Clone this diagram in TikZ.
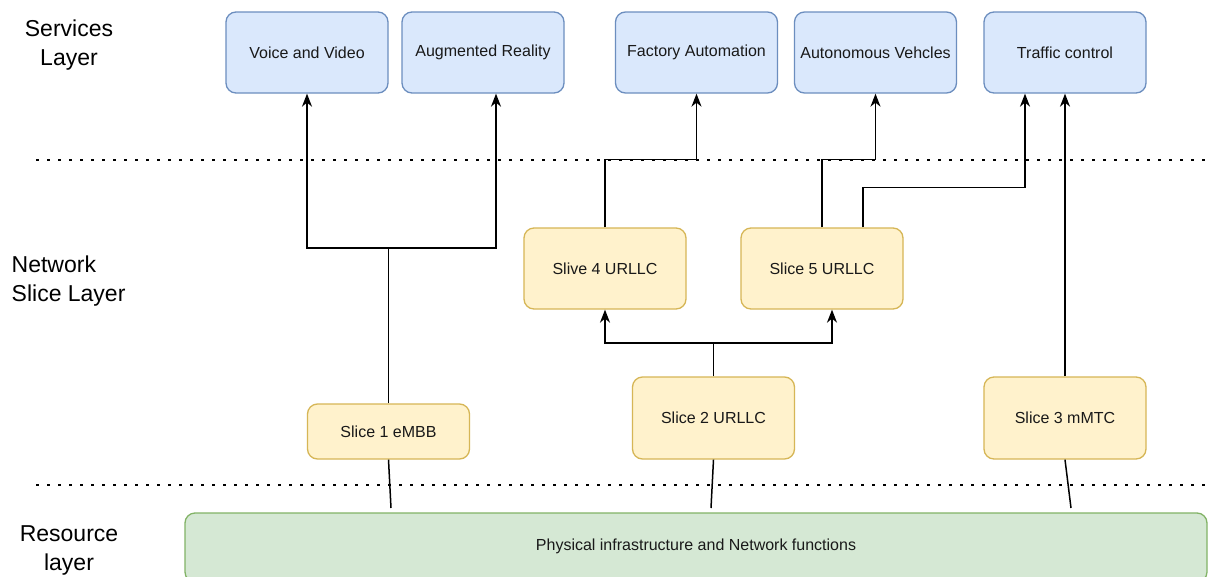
\documentclass[tikz,border=0pt]{standalone}
\usepackage{fontspec}
\setmainfont{Liberation Sans}
\usetikzlibrary{arrows.meta}
\definecolor{bfill}{HTML}{DAE8FC}
\definecolor{bdraw}{HTML}{6C8EBF}
\definecolor{yfill}{HTML}{FFF2CC}
\definecolor{ydraw}{HTML}{D6B656}
\definecolor{gfill}{HTML}{D5E8D4}
\definecolor{gdraw}{HTML}{82B366}
\tikzset{
  box/.style={rectangle, rounded corners=10pt, line width=1.3pt, minimum width=162pt, inner sep=0pt, font=\fontsize{16}{19}\selectfont, text=black!90},
  svc/.style={box, fill=bfill, draw=bdraw, minimum height=81pt},
  slc/.style={box, fill=yfill, draw=ydraw, minimum height=81pt},
  res/.style={rectangle, rounded corners=10pt, line width=1.3pt, fill=gfill, draw=gdraw},
  arr/.style={line width=1.5pt, -{Stealth[length=13pt,width=10pt,inset=4pt]}},
  ln/.style={line width=1.5pt},
  sep/.style={line width=2.6pt, dash pattern=on 2.6pt off 8.4pt},
  lay/.style={font=\fontsize{23}{29}\selectfont, inner sep=0pt}
}
\begin{document}
\begin{tikzpicture}[x=1pt,y=-1pt]
\useasboundingbox (0,0) rectangle (1208,576);
\fill[white] (0,0) rectangle (1208,576);

% separators
\draw[sep] (36,160) -- (1208,160);
\draw[sep] (36,485) -- (1208,485);

% layer labels
\node[lay, align=center] (lsvc) at (69,45) {Services\\Layer};
\node[lay, align=left, anchor=west] (lnet) at (11.5,281) {Network\\Slice Layer};
\node[lay, align=center] (lres) at (69,550) {Resource\\layer};

% resource box
\draw[res] (185,513) rectangle (1207,582);
\node[font=\fontsize{16}{19}\selectfont, text=black!90] (phys) at (696,546) {Physical infrastructure and Network functions};

% services
\node[svc] (vv) at (307,52.5) {Voice and Video};
\node[svc] (ar) at (483,52.5) {Augmented Reality};
\node[svc] (fa) at (696.5,52.5) {Factory Automation};
\node[svc] (av) at (875.5,52.5) {Autonomous Vehcles};
\node[svc] (tc) at (1065,52.5) {Traffic control};

% slices
\node[slc] (s4) at (605,268.5) {Slive 4 URLLC};
\node[slc] (s5) at (822,268.5) {Slice 5 URLLC};
\node[slc, minimum height=55pt] (s1) at (388.5,431.5) {Slice 1 eMBB};
\node[slc, minimum height=82pt] (s2) at (713.5,418) {Slice 2 URLLC};
\node[slc, minimum height=82pt] (s3) at (1065,418) {Slice 3 mMTC};

% connectors slice 1
\coordinate (j1) at (388.5,248);
\draw[ln] (s1.north) -- (j1);
\draw[arr] (j1) -| (vv.south);
\draw[arr] (j1) -| ([xshift=13pt]ar.south);

% slice 4 / 5 to services
\draw[arr] (s4.north) -- ++(0,-68) -| (fa.south);
\draw[arr] (s5.north) -- ++(0,-68) -| (av.south);
\draw[arr] ([xshift=41pt]s5.north) -- ++(0,-40) -| ([xshift=-40pt]tc.south);
\draw[arr] (s3.north) -- (tc.south);

% slice 2 to slice 4/5
\coordinate (j2) at (713.5,343);
\draw[ln] (s2.north) -- (j2);
\draw[arr] (j2) -| (s4.south);
\draw[arr] (j2) -| ([xshift=10pt]s5.south);

% slices to resources
\coordinate (g1) at (391,508);
\coordinate (g2) at (711,508);
\coordinate (g3) at (1071,508);
\draw[ln] (s1.south) -- (g1);
\draw[ln] (s2.south) -- (g2);
\draw[ln] (s3.south) -- (g3);
\end{tikzpicture}
\end{document}
